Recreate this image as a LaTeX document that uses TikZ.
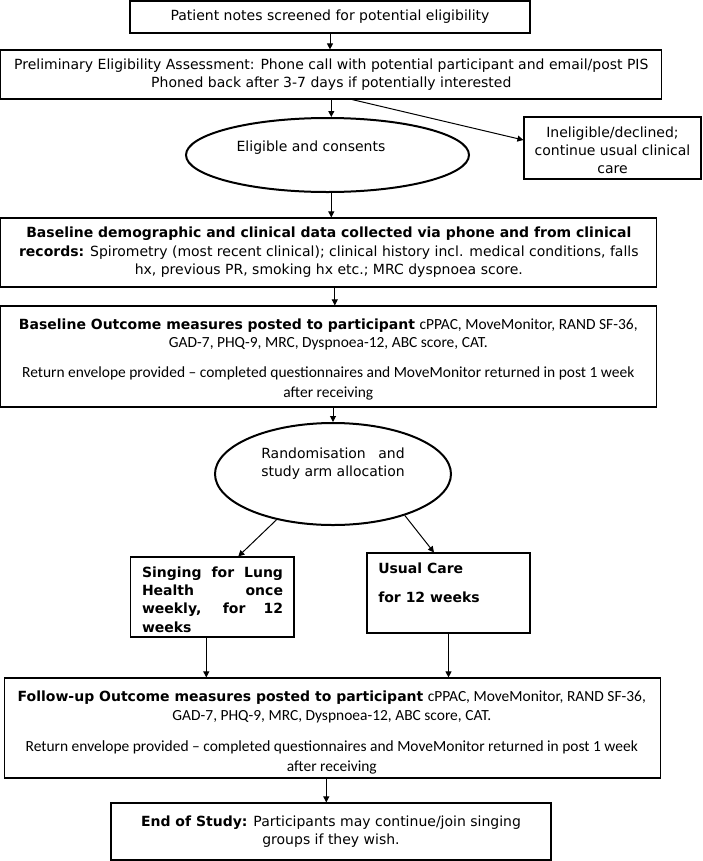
\documentclass[tikz,border=0pt]{standalone}
\usepackage{fontspec}
\setmainfont{DejaVu Sans}
\newfontfamily\calfont{Carlito}
\usetikzlibrary{arrows.meta,shapes.geometric}
\newlength\rwid
\newcommand{\calt}{\calfont\fontsize{11.6}{13.5}\selectfont}
\begin{document}
\begin{tikzpicture}[x=0.75pt,y=-0.75pt,
  box/.style={draw, line width=0.9pt, inner sep=0pt, align=center,
    font=\fontsize{10.5}{13.5}\selectfont},
  ell/.style={draw, ellipse, line width=1.5pt, inner sep=0pt},
  txt/.style={inner sep=0pt, align=center, font=\fontsize{10.5}{13.5}\selectfont},
  arr/.style={-{Triangle[length=4.5pt,width=4.5pt]}, line width=0.75pt}]
\useasboundingbox (0,0) rectangle (703,861);

\node[box, minimum width=300pt, minimum height=24pt] (b1) at (330,17)
  {Patient notes screened for potential eligibility};
\node[box, minimum width=495.75pt, minimum height=36.75pt] (b2) at (331.3,74.5)
  {Preliminary Eligibility Assessment: Phone call with potential participant and email/post PIS\\
   Phoned back after 3-7 days if potentially interested};
\node[ell, minimum width=212.25pt, minimum height=55.5pt] (e1) at (327.5,155) {};
\node[txt] (e1t) at (311,148) {Eligible and consents};
\node[box, minimum width=132.75pt, minimum height=46.5pt] (inel) at (612.5,148) {};
\node[txt] (inelt) at (612.5,150)
  {Ineligible/declined;\\continue usual clinical\\care};

\node[box, minimum width=492pt, minimum height=51.75pt,
  font=\fontsize{10.5}{13.9}\selectfont] (b3) at (328.8,252.5)
  {\textbf{Baseline demographic and clinical data collected via phone and from clinical}\\
   \textbf{records:} Spirometry (most recent clinical); clinical history incl. medical conditions, falls\\
   hx, previous PR, smoking hx etc.; MRC dyspnoea score.};

\node[box, minimum width=492pt, minimum height=75.75pt] (b4) at (328.8,356.5) {};
\node[txt] (b4t) at (328.3,360)
  {\textbf{Baseline Outcome measures posted to participant} {\calt cPPAC, MoveMonitor, RAND SF-36,}\\
   {\calt GAD-7, PHQ-9, MRC, Dyspnoea-12, ABC score, CAT.}\\[9pt]
   {\calt Return envelope provided – completed questionnaires and MoveMonitor returned in post 1 week}\\[1.5pt]
   {\calt after receiving}};

\node[ell, minimum width=177pt, minimum height=76.5pt] (e2) at (333,474) {};
\node[txt] (e2t) at (333,463.5)
  {\settowidth{\rwid}{study arm allocation}\makebox[\rwid][s]{Randomisation and}\\study arm allocation};

\node[box, minimum width=122.6pt, minimum height=60pt] (sing) at (212.3,597) {};
\node[txt, font=\bfseries\fontsize{10.5}{13.7}\selectfont] (singt) at (212.5,599.5)
  {\makebox[105.75pt][s]{Singing for Lung}\\
   \makebox[105.75pt][s]{Health once}\\
   \makebox[105.75pt][s]{weekly, for 12}\\
   \makebox[105.75pt][l]{weeks}};
\node[box, minimum width=122.25pt, minimum height=60pt] (usual) at (448.5,593) {};
\node[txt, anchor=west, align=left, font=\bfseries\fontsize{10.5}{13.5}\selectfont] (usualt) at (378,582.5)
  {Usual Care\\[8.25pt]for 12 weeks};

\node[box, minimum width=492pt, minimum height=75pt] (fu) at (332.3,728) {};
\node[txt] (fut) at (331.8,732.5)
  {\textbf{Follow-up Outcome measures posted to participant} {\calt cPPAC, MoveMonitor, RAND SF-36,}\\[0.6pt]
   {\calt GAD-7, PHQ-9, MRC, Dyspnoea-12, ABC score, CAT.}\\[9.6pt]
   {\calt Return envelope provided – completed questionnaires and MoveMonitor returned in post 1 week}\\[1.5pt]
   {\calt after receiving}};

\node[box, minimum width=330pt, minimum height=42.75pt] (end) at (331,831.5)
  {\textbf{End of Study:} Participants may continue/join singing\\groups if they wish.};

% connectors
\draw[arr] (b1.south) -- (b1.south |- b2.north);
\draw[arr] (b2.south) -- (b2.south |- e1.north);
\draw[arr] ([xshift=15.75pt]b2.south) -- ([yshift=6pt]inel.west);
\draw[arr] (e1.south -| b2.south) -- (b2.south |- b3.north);
\draw[arr] ([xshift=4.5pt]b3.south) -- ([xshift=4.5pt]b3.south |- b4.north);
\draw[arr] (b4.south -| e2.north) -- (e2.north);
\draw[arr] (e2.219) -- ([xshift=19.5pt]sing.north);
\draw[arr] (e2.330) -- ([xshift=-10.9pt]usual.north);
\draw[arr] ([xshift=-4.5pt]sing.south) -- ([xshift=-4.5pt]sing.south |- fu.north);
\draw[arr] (usual.south) -- (usual.south |- fu.north);
\draw[arr] ([xshift=-4.5pt]fu.south) -- ([xshift=-4.5pt]fu.south |- end.north);
\end{tikzpicture}
\end{document}
